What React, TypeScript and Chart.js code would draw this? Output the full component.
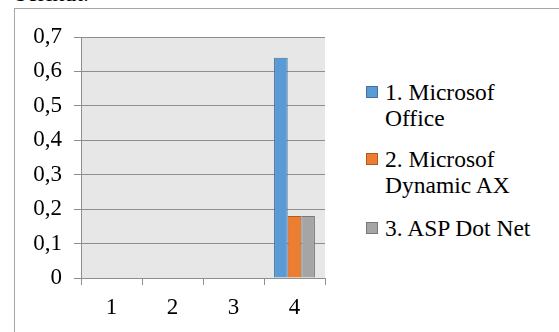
import React, { useEffect, useRef } from 'react';
import { Chart, registerables } from 'chart.js';

Chart.register(...registerables);

const categories = ['1', '2', '3', '4'];
const seriesLabels = [['1. Microsof', 'Office'], ['2. Microsof', 'Dynamic AX'], ['3. ASP Dot Net']];
const officeValues = [0, 0, 0, 0.64];
const dynamicAxValues = [0, 0, 0, 0.18];
const aspNetValues = [0, 0, 0, 0.18];
const yMin = 0;
const yMax = 0.7;
const yStep = 0.1;

const FONT = '"Liberation Serif", "Times New Roman", serif';
const fills = ['#5b9bd5', '#ed7d31', '#a5a5a5'];
const borders = ['#41719c', '#ae5a21', '#787878'];
const GRID = '#8e8e8e';

const plotBg = {
  id: 'plotBg',
  beforeDraw(chart: any) {
    const { ctx, chartArea } = chart;
    ctx.save();
    ctx.fillStyle = '#e7e7e7';
    ctx.fillRect(chartArea.left, chartArea.top, chartArea.right - chartArea.left, chartArea.bottom - chartArea.top);
    ctx.restore();
  },
};

export default function App() {
  const ref = useRef<HTMLCanvasElement | null>(null);

  useEffect(() => {
    if (!ref.current) return;
    const series = [officeValues, dynamicAxValues, aspNetValues];
    const chart = new Chart(ref.current, {
      type: 'bar',
      data: {
        labels: categories,
        datasets: series.map((d, i) => ({
          label: seriesLabels[i].join(' '),
          data: d,
          backgroundColor: fills[i],
          borderColor: borders[i],
          borderWidth: 1,
          categoryPercentage: 0.67,
          barPercentage: 1,
        })),
      },
      options: {
        animation: false,
        responsive: false,
        devicePixelRatio: 1,
        layout: { padding: { top: 28, right: 10, bottom: 0, left: 0 } },
        plugins: { legend: { display: false }, tooltip: { enabled: false } },
        scales: {
          x: {
            offset: true,
            grid: { offset: true, drawOnChartArea: false, drawTicks: true, tickLength: 7, color: GRID },
            border: { display: true, color: GRID },
            ticks: { color: '#000', font: { family: FONT, size: 23 }, padding: 9 },
            afterFit(scale: any) { scale.height = 54; },
          },
          y: {
            min: yMin,
            max: yMax,
            grid: { color: GRID, drawTicks: true, tickLength: 7 },
            border: { display: true, color: GRID },
            ticks: {
              stepSize: yStep,
              color: '#000',
              font: { family: FONT, size: 23 },
              padding: 12,
              callback: (v: any) => (Number(v) === 0 ? '0' : Number(v).toFixed(1).replace('.', ',')),
            },
            afterFit(scale: any) { scale.width = 66; },
          },
        },
      },
      plugins: [plotBg],
    });
    return () => chart.destroy();
  }, []);

  const legendTops = [79, 146, 215];

  return (
    <div style={{ position: 'fixed', left: 0, top: 0, width: 559, height: 332, overflow: 'hidden', background: '#fff', fontFamily: FONT }}>
      <div style={{ position: 'absolute', left: 15, top: -21, fontSize: 24, lineHeight: '28px', color: '#000' }}>berikut.</div>
      <div style={{ position: 'absolute', left: 14, top: 8, width: 545, height: 330, borderTop: '1px solid #a6a6a6', borderLeft: '1px solid #a6a6a6' }} />
      <canvas ref={ref} width={320} height={323} style={{ position: 'absolute', left: 15, top: 9, width: 320, height: 323 }} />
      {seriesLabels.map((lines, i) => (
        <div key={i} style={{ position: 'absolute', left: 366, top: legendTops[i], fontSize: 23.5, lineHeight: '26px', color: '#000' }}>
          <div style={{ position: 'absolute', left: 0, top: 7, width: 10, height: 10, background: fills[i], border: `1px solid ${borders[i]}` }} />
          <div style={{ position: 'absolute', left: 19, top: 0, whiteSpace: 'nowrap' }}>
            {lines.map((l, j) => (<div key={j}>{l}</div>))}
          </div>
        </div>
      ))}
    </div>
  );
}
